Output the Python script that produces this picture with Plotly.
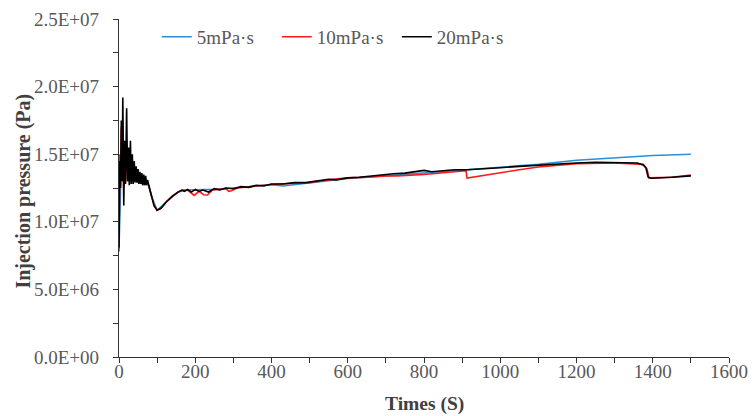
import plotly.graph_objects as go

# ---------------- data ----------------
t_black = [0, 2, 4, 6, 8, 10, 12.5, 15, 17, 20, 22.5, 25, 27, 30, 32, 35, 37, 40, 42, 45, 47, 50, 52,
           55, 57, 60, 62, 65, 67, 70, 72, 75, 78, 85, 92, 100, 110, 125, 140, 155, 165, 172, 180, 190,
           200, 210, 220, 235, 250, 265, 280, 300, 320, 340, 360, 380, 400, 430, 460, 490, 520, 550,
           570, 600, 630, 660, 690, 720, 750, 780, 800, 820, 850, 880, 913, 950, 1000, 1050, 1100,
           1150, 1200, 1250, 1300, 1340, 1360, 1375, 1382, 1388, 1395, 1450, 1500]
p_black = [0.81e7, 1.45e7, 1.25e7, 1.75e7, 1.30e7, 1.92e7, 1.12e7, 1.60e7, 1.28e7, 1.84e7, 1.30e7,
           1.55e7, 1.27e7, 1.60e7, 1.28e7, 1.50e7, 1.28e7, 1.45e7, 1.29e7, 1.41e7, 1.29e7, 1.39e7,
           1.28e7, 1.37e7, 1.28e7, 1.36e7, 1.27e7, 1.35e7, 1.27e7, 1.34e7, 1.27e7, 1.31e7, 1.27e7,
           1.19e7, 1.12e7, 1.085e7, 1.10e7, 1.15e7, 1.19e7, 1.22e7, 1.235e7, 1.225e7, 1.24e7, 1.22e7,
           1.24e7, 1.225e7, 1.235e7, 1.22e7, 1.245e7, 1.235e7, 1.25e7, 1.245e7, 1.26e7, 1.255e7,
           1.27e7, 1.265e7, 1.28e7, 1.28e7, 1.29e7, 1.29e7, 1.30e7, 1.315e7, 1.31e7, 1.325e7, 1.33e7,
           1.34e7, 1.345e7, 1.355e7, 1.36e7, 1.37e7, 1.38e7, 1.37e7, 1.38e7, 1.385e7, 1.385e7,
           1.39e7, 1.40e7, 1.41e7, 1.42e7, 1.425e7, 1.435e7, 1.44e7, 1.44e7, 1.44e7, 1.435e7,
           1.42e7, 1.40e7, 1.33e7, 1.322e7, 1.33e7, 1.34e7]

t_red = [0, 2, 4, 6, 8, 10, 12, 15, 17, 20, 23, 26, 30, 35, 40, 45, 50, 55, 60, 65, 70, 75, 78, 85,
         92, 100, 110, 125, 140, 155, 165, 180, 190, 197, 210, 222, 232, 245, 260, 280, 288, 295,
         310, 340, 380, 420, 460, 500, 550, 600, 650, 700, 730, 800, 880, 910, 913, 1000, 1050,
         1100, 1150, 1200, 1300, 1360, 1375, 1385, 1390, 1450, 1500]
p_red = [0.78e7, 1.50e7, 1.30e7, 1.70e7, 1.32e7, 1.75e7, 1.25e7, 1.55e7, 1.29e7, 1.60e7, 1.30e7,
         1.50e7, 1.30e7, 1.42e7, 1.30e7, 1.38e7, 1.29e7, 1.35e7, 1.28e7, 1.33e7, 1.28e7, 1.30e7,
         1.27e7, 1.19e7, 1.12e7, 1.085e7, 1.10e7, 1.15e7, 1.19e7, 1.22e7, 1.235e7, 1.235e7, 1.21e7,
         1.195e7, 1.225e7, 1.20e7, 1.198e7, 1.235e7, 1.24e7, 1.245e7, 1.225e7, 1.23e7, 1.25e7,
         1.26e7, 1.27e7, 1.28e7, 1.285e7, 1.29e7, 1.31e7, 1.325e7, 1.33e7, 1.34e7, 1.34e7, 1.35e7,
         1.37e7, 1.378e7, 1.324e7, 1.365e7, 1.385e7, 1.405e7, 1.42e7, 1.43e7, 1.435e7, 1.43e7,
         1.425e7, 1.39e7, 1.325e7, 1.33e7, 1.345e7]

t_blue = [0, 5, 10, 15, 20, 30, 40, 50, 60, 75, 85, 100, 125, 155, 180, 250, 300, 350, 400, 430,
          460, 500, 600, 700, 800, 900, 1000, 1050, 1100, 1200, 1300, 1400, 1500]
p_blue = [0.8e7, 1.35e7, 1.40e7, 1.35e7, 1.38e7, 1.35e7, 1.33e7, 1.32e7, 1.31e7, 1.29e7, 1.19e7,
          1.085e7, 1.15e7, 1.22e7, 1.235e7, 1.24e7, 1.25e7, 1.26e7, 1.275e7, 1.265e7, 1.275e7,
          1.29e7, 1.32e7, 1.34e7, 1.36e7, 1.38e7, 1.40e7, 1.415e7, 1.425e7, 1.455e7, 1.475e7,
          1.49e7, 1.50e7]

series_names = ["5mPa·s", "10mPa·s", "20mPa·s"]
series_colors = ["#2990d6", "#ff1a1a", "#000000"]

y_tickvals = [0, 5e6, 1e7, 1.5e7, 2e7, 2.5e7]
y_ticktext = ["0.0E+00", "5.0E+06", "1.0E+07", "1.5E+07", "2.0E+07", "2.5E+07"]
x_tickvals = [0, 200, 400, 600, 800, 1000, 1200, 1400, 1600]

# ---------------- figure ----------------
FONT = "Liberation Serif, Times New Roman, serif"
fig = go.Figure()
for t, p, name, col in zip([t_blue, t_red, t_black], [p_blue, p_red, p_black],
                           series_names, series_colors):
    fig.add_trace(go.Scatter(x=t, y=p, mode="lines", name=name,
                             line=dict(color=col, width=1.6)))

axis_common = dict(showline=True, linecolor="#333333", linewidth=1.3, ticks="outside",
                   ticklen=5, tickwidth=1.2, tickcolor="#333333", showgrid=False, zeroline=False,
                   automargin=False,
                   tickfont=dict(family=FONT, size=19, color="#595959"))

fig.update_xaxes(range=[0, 1600], tickvals=x_tickvals, ticklabelstandoff=-8,
                 minor=dict(dtick=100, ticks="outside", ticklen=5, tickwidth=1.2, tickcolor="#333333"),
                 **axis_common)
fig.update_yaxes(range=[0, 2.5e7], tickvals=y_tickvals, ticktext=y_ticktext,
                 ticklabelstandoff=10,
                 minor=dict(dtick=2.5e6, ticks="outside", ticklen=5, tickwidth=1.2, tickcolor="#333333"),
                 **axis_common)

fig.add_annotation(text="<b>Injection pressure (Pa)</b>", xref="paper", yref="paper",
                   x=-0.157, y=0.49, xanchor="center", yanchor="middle",
                   textangle=-90, showarrow=False,
                   font=dict(family=FONT, size=20, color="#404040"))
fig.add_annotation(text="<b>Times (S)</b>", xref="paper", yref="paper",
                   x=0.5, y=-0.139, xanchor="center", yanchor="middle", showarrow=False,
                   font=dict(family=FONT, size=19.5, color="#404040"))

fig.update_layout(
    width=755, height=416,
    margin=dict(l=119, r=26, t=19, b=59),
    paper_bgcolor="white", plot_bgcolor="white",
    showlegend=True,
    legend=dict(orientation="h", x=0.062, y=0.947, xanchor="left", yanchor="middle",
                font=dict(family=FONT, size=19, color="#595959"),
                itemwidth=30, entrywidth=75, bgcolor="rgba(0,0,0,0)", traceorder="normal"),
)

fig.write_html("out.html")
